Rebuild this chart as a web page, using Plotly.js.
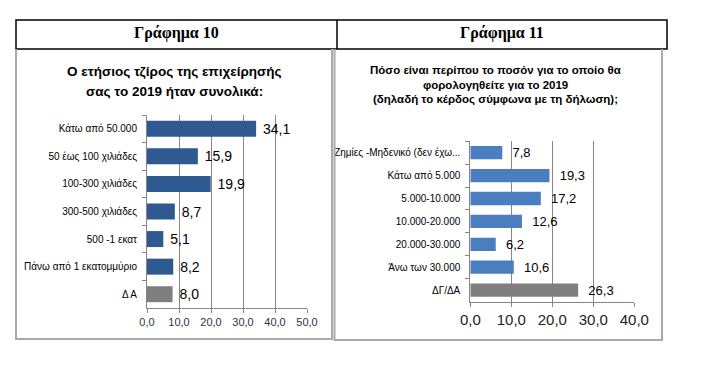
<!DOCTYPE html>
<html>
<head>
<meta charset="utf-8">
<script src="https://cdn.plot.ly/plotly-3.0.1.min.js"></script>
<style>html,body{margin:0;padding:0;background:#fff;}#chart{width:727px;height:369px;}</style>
</head>
<body>
<div id="chart"></div>
<script>
// ---- Data ----
const header10 = "Γράφημα 10";
const header11 = "Γράφημα 11";
const title10 = ["Ο ετήσιος τζίρος της επιχείρησής", "σας το 2019 ήταν συνολικά:"];
const title11 = ["Πόσο είναι περίπου το ποσόν για το οποίο θα", "φορολογηθείτε για το 2019", "(δηλαδή το κέρδος σύμφωνα με τη δήλωση);"];

const cat10 = ["Κάτω από 50.000", "50 έως 100 χιλιάδες", "100-300 χιλιάδες", "300-500 χιλιάδες", "500 -1 εκατ", "Πάνω από 1 εκατομμύριο", "Δ Α"];
const val10 = [34.1, 15.9, 19.9, 8.7, 5.1, 8.2, 8.0];
const ticks10 = [0, 10, 20, 30, 40, 50];

const cat11 = ["Ζημίες -Μηδενικό (δεν έχω...", "Κάτω από 5.000", "5.000-10.000", "10.000-20.000", "20.000-30.000", "Άνω των 30.000", "ΔΓ/ΔΑ"];
const val11 = [7.8, 19.3, 17.2, 12.6, 6.2, 10.6, 26.3];
const ticks11 = [0, 10, 20, 30, 40];

// ---- Style ----
const W = 727, H = 369;
const px = x => x / W;
const py = y => 1 - y / H;
const blue10 = "#2F5A91", blue11 = "#4A7EC0", grey = "#7F7F7F";
const colors10 = cat10.map((c, i) => i === cat10.length - 1 ? grey : blue10);
const colors11 = cat11.map((c, i) => i === cat11.length - 1 ? grey : blue11);
const FONT = "Liberation Sans, Arial, sans-serif";
const NB = "\u00a0";

const traces = [
  {type: "bar", orientation: "h", x: val10, y: cat10, xaxis: "x", yaxis: "y",
   marker: {color: colors10}, texttemplate: NB + "%{x:.1f}", textposition: "outside",
   constraintext: "none", cliponaxis: false,
   textfont: {family: FONT, size: 14, color: "#000"}, hoverinfo: "none"},
  {type: "bar", orientation: "h", x: val11, y: cat11, xaxis: "x2", yaxis: "y2",
   marker: {color: colors11}, texttemplate: NB + NB + "%{x:.1f}", textposition: "outside",
   constraintext: "none", cliponaxis: false,
   textfont: {family: FONT, size: 13, color: "#000"}, hoverinfo: "none"}
];

const xcommon = {showline: true, linecolor: "#868686", linewidth: 1, ticks: "outside",
  ticklen: 4, tickcolor: "#868686", showgrid: true, gridcolor: "#868686", gridwidth: 1,
  tickformat: ".1f", zeroline: false, fixedrange: true};
const ycommon = {type: "category", autorange: "reversed", showline: true, linecolor: "#868686",
  ticks: "outside", tickson: "boundaries", ticklen: 4, tickcolor: "#868686",
  showgrid: false, zeroline: false, ticklabelstandoff: 7, fixedrange: true,
  tickfont: {family: FONT, size: 10, color: "#000"}};

const annotations = [];
function ann(text, x, y, size, bold, family) {
  annotations.push({xref: "paper", yref: "paper", x: px(x), y: py(y), text: bold ? "<b>" + text + "</b>" : text,
    showarrow: false, xanchor: "center", yanchor: "middle",
    font: {family: family || FONT, size: size, color: "#000"}});
}
ann(header10, 176.5, 33, 16, true, "Liberation Serif, serif");
ann(header11, 502, 33, 16, true, "Liberation Serif, serif");
ann(title10[0], 174, 72, 13.5, true);
ann(title10[1], 174, 91, 13.5, true);
ann(title11[0], 495, 70, 11.5, true);
ann(title11[1], 495, 85, 11.5, true);
ann(title11[2], 495, 100, 11.5, true);

const shapes = [
  {type: "rect", xref: "paper", yref: "paper", x0: px(16), x1: px(667), y0: py(49), y1: py(20),
   line: {color: "#000", width: 1.5}},
  {type: "line", xref: "paper", yref: "paper", x0: px(337), x1: px(337), y0: py(49), y1: py(20),
   line: {color: "#000", width: 1.5}},
  {type: "path", xref: "paper", yref: "paper",
   path: `M ${px(16)} ${py(49)} L ${px(16)} ${py(339)} L ${px(332)} ${py(339)} L ${px(332)} ${py(49)}`,
   line: {color: "#A9A9A9", width: 2}},
  {type: "path", xref: "paper", yref: "paper",
   path: `M ${px(334.5)} ${py(49)} L ${px(334.5)} ${py(340)} L ${px(662)} ${py(340)} L ${px(662)} ${py(49)}`,
   line: {color: "#A9A9A9", width: 2}}
];

const layout = {
  width: W, height: H, margin: {l: 0, r: 0, t: 0, b: 0},
  paper_bgcolor: "#fff", plot_bgcolor: "rgba(0,0,0,0)",
  separators: ",.", showlegend: false, bargap: 0.42,
  font: {family: FONT, color: "#000"},
  xaxis: Object.assign({}, xcommon, {domain: [px(147), px(307)], range: [0, 50], tickvals: ticks10,
    anchor: "y", tickfont: {family: FONT, size: 11, color: "#333"}}),
  yaxis: Object.assign({}, ycommon, {domain: [py(308), py(115)], anchor: "x"}),
  xaxis2: Object.assign({}, xcommon, {domain: [px(470.3), px(634.3)], range: [0, 40], tickvals: ticks11,
    anchor: "y2", tickfont: {family: FONT, size: 15, color: "#222"}}),
  yaxis2: Object.assign({}, ycommon, {domain: [py(301.6), py(141.2)], anchor: "x2"}),
  annotations: annotations,
  shapes: shapes
};

Plotly.newPlot("chart", traces, layout, {staticPlot: true, displayModeBar: false});
</script>
</body>
</html>
